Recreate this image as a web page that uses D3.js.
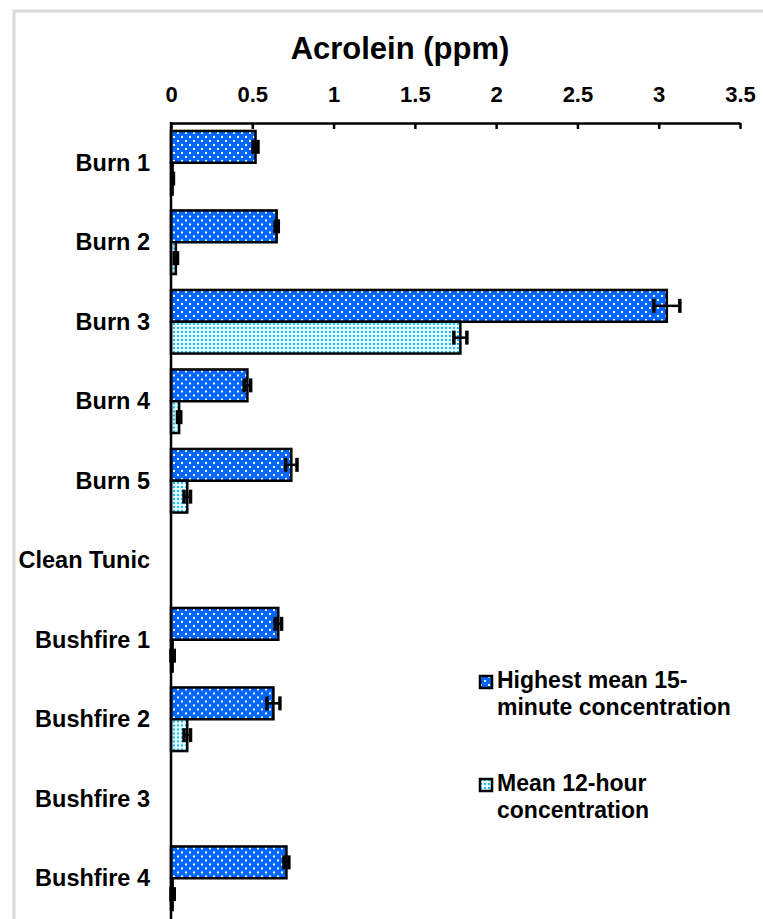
<!DOCTYPE html>
<html>
<head>
    <meta charset="UTF-8">
    <title>Acrolein</title>
    <style>
        body {
            margin: 0;
            overflow: hidden;
            background-color: #fff;
        }
        text {
            font-family: "Liberation Sans", Arial, sans-serif;
            font-weight: bold;
            fill: #000;
        }
    </style>
    <script src="https://cdn.jsdelivr.net/npm/d3@7"></script>
</head>
<body>
    <script>
        // values (ppm)
        const categories = ["Burn 1", "Burn 2", "Burn 3", "Burn 4", "Burn 5", "Clean Tunic",
            "Bushfire 1", "Bushfire 2", "Bushfire 3", "Bushfire 4"];
        const peak15 = [0.52, 0.65, 3.05, 0.47, 0.74, 0, 0.66, 0.63, 0, 0.71];
        const peak15Err = [0.015, 0.01, 0.08, 0.02, 0.035, 0, 0.02, 0.04, 0, 0.015];
        const mean12 = [0.01, 0.03, 1.78, 0.05, 0.1, 0, 0.01, 0.1, 0, 0.01];
        const mean12Err = [0.005, 0.01, 0.04, 0.01, 0.02, 0, 0.01, 0.02, 0, 0.01];
        const seriesNames = ["Highest mean 15-minute concentration", "Mean 12-hour concentration"];
        const legendLines = [["Highest mean 15-", "minute concentration"], ["Mean 12-hour", "concentration"]];
        const xTicks = [0, 0.5, 1, 1.5, 2, 2.5, 3, 3.5];

        const width = 763, height = 919;
        const svg = d3.select('body').append('svg')
            .attr('width', width)
            .attr('height', height);

        // light frame round the chart
        svg.append('path')
            .attr('d', `M14,${height} V11 H${width}`)
            .attr('fill', 'none')
            .attr('stroke', '#d9d9d9')
            .attr('stroke-width', 3);

        const defs = svg.append('defs');
        const p1 = defs.append('pattern').attr('id', 'dotsBlue')
            .attr('patternUnits', 'userSpaceOnUse').attr('width', 8).attr('height', 8);
        p1.append('rect').attr('width', 8).attr('height', 8).attr('fill', '#0066ff');
        p1.append('rect').attr('x', 1).attr('y', 1).attr('width', 2).attr('height', 2).attr('fill', '#fff');
        p1.append('rect').attr('x', 5).attr('y', 5).attr('width', 2).attr('height', 2).attr('fill', '#fff');

        const p2 = defs.append('pattern').attr('id', 'dotsCyan')
            .attr('patternUnits', 'userSpaceOnUse').attr('width', 4).attr('height', 4);
        p2.append('rect').attr('width', 4).attr('height', 4).attr('fill', '#e6f9ff');
        p2.append('rect').attr('x', 1).attr('y', 1).attr('width', 2).attr('height', 2).attr('fill', '#10c2f5');

        const fills = ['url(#dotsBlue)', 'url(#dotsCyan)'];

        const x = d3.scaleLinear().domain([0, 3.5]).range([171, 740]);
        const y = d3.scaleBand().domain(categories).range([123, 918])
            .paddingInner(0.2).paddingOuter(0.1);
        const ySub = d3.scaleBand().domain([0, 1]).range([0, y.bandwidth()]);

        const rows = categories.map((c, i) => ({
            cat: c,
            vals: [
                {s: 0, v: peak15[i], e: peak15Err[i]},
                {s: 1, v: mean12[i], e: mean12Err[i]}
            ]
        }));

        const groups = svg.selectAll('g.grp')
            .data(rows)
            .join('g')
            .attr('class', 'grp')
            .attr('transform', d => `translate(0,${y(d.cat)})`);

        groups.selectAll('rect')
            .data(d => d.vals.filter(v => v.v > 0))
            .join('rect')
            .attr('x', x(0))
            .attr('y', d => ySub(d.s))
            .attr('width', d => x(d.v) - x(0))
            .attr('height', ySub.bandwidth())
            .attr('fill', d => fills[d.s])
            .attr('stroke', '#000')
            .attr('stroke-width', 2.5);

        // error bars
        const eb = groups.selectAll('g.err')
            .data(d => d.vals.filter(v => v.v > 0))
            .join('g')
            .attr('class', 'err')
            .attr('transform', d => `translate(0,${ySub(d.s) + ySub.bandwidth() / 2})`);
        eb.append('line')
            .attr('x1', d => x(d.v - d.e)).attr('x2', d => x(d.v + d.e))
            .attr('stroke', '#000').attr('stroke-width', 2.5);
        eb.selectAll('line.cap')
            .data(d => [d.v - d.e, d.v + d.e])
            .join('line')
            .attr('class', 'cap')
            .attr('x1', d => x(d)).attr('x2', d => x(d))
            .attr('y1', -7).attr('y2', 7)
            .attr('stroke', '#000').attr('stroke-width', 3.5);

        // top axis
        const axis = svg.append('g')
            .attr('transform', `translate(0,123)`)
            .call(d3.axisTop(x).tickValues(xTicks).tickSize(-6).tickSizeOuter(0)
                .tickFormat(d3.format('~g')));
        axis.select('.domain').attr('stroke', '#000').attr('stroke-width', 2.5);
        axis.selectAll('.tick line').attr('stroke', '#000').attr('stroke-width', 2.5);
        axis.selectAll('.tick text')
            .attr('y', -21)
            .attr('dy', 0)
            .style('font-size', '22px')
            .style('font-family', '"Liberation Sans", Arial, sans-serif')
            .style('font-weight', 'bold');

        // vertical axis line
        svg.append('line')
            .attr('x1', x(0)).attr('x2', x(0))
            .attr('y1', 122).attr('y2', height)
            .attr('stroke', '#000').attr('stroke-width', 2.5);

        // category labels
        svg.selectAll('text.cat')
            .data(categories)
            .join('text')
            .attr('class', 'cat')
            .attr('x', 150)
            .attr('y', d => y(d) + y.bandwidth() / 2 + 8)
            .attr('text-anchor', 'end')
            .style('font-size', '23.5px')
            .text(d => d);

        // title
        svg.append('text')
            .attr('x', 400)
            .attr('y', 59)
            .attr('text-anchor', 'middle')
            .style('font-size', '31px')
            .text('Acrolein (ppm)');

        // legend
        const leg = svg.selectAll('g.leg')
            .data(seriesNames)
            .join('g')
            .attr('class', 'leg')
            .attr('transform', (d, i) => `translate(479,${675 + i * 103})`);
        leg.append('rect')
            .attr('x', 1).attr('y', 1)
            .attr('width', 12).attr('height', 12)
            .attr('fill', (d, i) => fills[i])
            .attr('stroke', '#000').attr('stroke-width', 2.5);
        leg.append('text')
            .attr('x', 18)
            .attr('y', 13)
            .style('font-size', '23px')
            .selectAll('tspan')
            .data((d, i) => legendLines[i])
            .join('tspan')
            .attr('x', 18)
            .attr('dy', (d, i) => i === 0 ? 0 : 27)
            .text(d => d);
    </script>
</body>
</html>
